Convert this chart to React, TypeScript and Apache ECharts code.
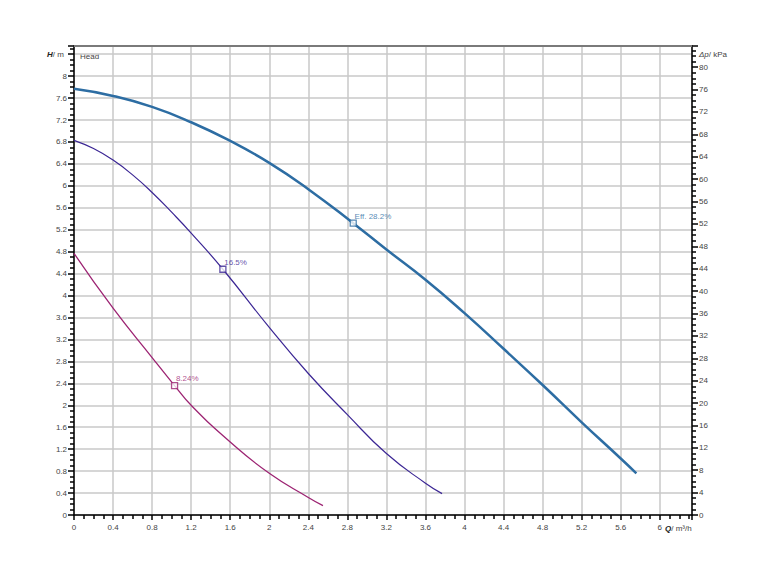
import React, { useEffect, useRef } from "react";
import * as echarts from "echarts";

const blueQ = [0, 0.4, 0.8, 1.2, 1.6, 2.0, 2.4, 2.86, 3.2, 3.6, 4.0, 4.4, 4.8, 5.2, 5.6, 5.76];
const blueH = [7.77, 7.64, 7.44, 7.16, 6.82, 6.42, 5.94, 5.32, 4.84, 4.29, 3.68, 3.03, 2.37, 1.69, 1.03, 0.76];
const purpleQ = [0, 0.2, 0.4, 0.6, 0.8, 1.0, 1.2, 1.525, 2.0, 2.4, 2.8, 3.2, 3.6, 3.77];
const purpleH = [6.83, 6.68, 6.47, 6.2, 5.88, 5.52, 5.14, 4.48, 3.42, 2.58, 1.83, 1.12, 0.58, 0.39];
const magentaQ = [0, 0.4, 0.8, 1.03, 1.2, 1.6, 2.0, 2.4, 2.55];
const magentaH = [4.77, 3.77, 2.87, 2.36, 2.0, 1.33, 0.76, 0.32, 0.17];

const effPoints = [
  { q: 2.86, h: 5.32, label: "Eff. 28.2%", color: "#2d6da3" },
  { q: 1.525, h: 4.48, label: "16.5%", color: "#3b2694" },
  { q: 1.03, h: 2.36, label: "8.24%", color: "#9c2372" },
];

const H_MAX = 8.55;
const KPA_PER_M = 9.8;
const Q_MAX = 6.33;

const FONT = "Liberation Sans, Arial, sans-serif";
const TXT = "#444";

function zip(a: number[], b: number[]) {
  return a.map((v, i) => [v, b[i]]);
}

export default function App() {
  const ref = useRef<HTMLDivElement>(null);
  useEffect(() => {
    if (!ref.current) return;
    const chart = echarts.init(ref.current, undefined, { renderer: "svg" });
    const axisLabel = { fontSize: 8, color: TXT, fontFamily: FONT };
    const axisLine = { show: true, onZero: false, lineStyle: { color: "#000", width: 1.5 } };
    const tickStyle = { color: "#000", width: 1.5 };
    chart.setOption({
      animation: false,
      backgroundColor: "#fff",
      grid: { left: 74, right: 69, top: 46, bottom: 47, show: false },
      xAxis: [
        {
          type: "value",
          min: 0,
          max: Q_MAX,
          interval: 0.4,
          axisLine,
          axisTick: { show: true, inside: false, length: 5, lineStyle: tickStyle },
          minorTick: { show: true, splitNumber: 4, length: 4, lineStyle: tickStyle },
          splitLine: { show: true, lineStyle: { color: "#c8c8c8", width: 1.5 } },
          axisLabel: { ...axisLabel, margin: 8, showMaxLabel: false },
        },
        {
          type: "value",
          position: "top",
          min: 0,
          max: Q_MAX,
          interval: 0.4,
          axisLine: { show: true, onZero: false, lineStyle: { color: "#7a7a7a", width: 2 } },
          axisTick: { show: false },
          minorTick: { show: false },
          splitLine: { show: false },
          axisLabel: { show: false },
        },
      ],
      yAxis: [
        {
          type: "value",
          min: 0,
          max: H_MAX,
          interval: 0.4,
          axisLine,
          axisTick: { show: true, inside: false, length: 6, lineStyle: tickStyle },
          minorTick: { show: true, splitNumber: 4, length: 4, lineStyle: tickStyle },
          splitLine: { show: true, lineStyle: { color: "#c8c8c8", width: 1.5 } },
          axisLabel: {
            ...axisLabel,
            margin: 7,
            showMaxLabel: false,
            formatter: (v: number) => (Math.abs(v - 8.4) < 1e-6 ? "" : String(Math.round(v * 10) / 10)),
          },
        },
        {
          type: "value",
          min: 0,
          max: H_MAX * KPA_PER_M,
          interval: 4,
          position: "right",
          axisLine,
          axisTick: { show: true, inside: false, length: 6, lineStyle: tickStyle },
          minorTick: { show: true, splitNumber: 4, length: 4, lineStyle: tickStyle },
          splitLine: { show: false },
          axisLabel: { ...axisLabel, margin: 7, showMaxLabel: false },
        },
      ],
      series: [
        {
          type: "line",
          data: zip(blueQ, blueH),
          smooth: 0.5,
          showSymbol: false,
          lineStyle: { color: "#2d6da3", width: 2.5 },
          z: 3,
        },
        {
          type: "line",
          data: zip(purpleQ, purpleH),
          smooth: 0.5,
          showSymbol: false,
          lineStyle: { color: "#3b2694", width: 1.2 },
          z: 3,
        },
        {
          type: "line",
          data: zip(magentaQ, magentaH),
          smooth: 0.5,
          showSymbol: false,
          lineStyle: { color: "#9c2372", width: 1.3 },
          z: 3,
        },
        {
          type: "scatter",
          z: 5,
          symbol: "rect",
          symbolSize: 6,
          data: effPoints.map((p) => ({
            value: [p.q, p.h],
            itemStyle: { color: "#fff", borderColor: p.color, borderWidth: 1.3 },
            label: {
              show: true,
              formatter: p.label,
              position: [5, -3],
              align: "left",
              verticalAlign: "middle",
              fontSize: 8,
              fontFamily: FONT,
              color: p.color,
            },
          })),
        },
      ],
      graphic: [
        {
          type: "text",
          left: 47,
          top: 50,
          style: {
            text: "{b|H}{n|/ m}",
            rich: {
              b: { fontSize: 8, fontWeight: "bold", fontStyle: "italic", fontFamily: FONT, fill: "#222" },
              n: { fontSize: 8, fontFamily: FONT, fill: TXT },
            },
          },
        },
        {
          type: "text",
          left: 80,
          top: 52,
          style: { text: "Head", fontSize: 8, fontFamily: FONT, fill: TXT },
        },
        {
          type: "text",
          left: 699,
          top: 50,
          style: {
            text: "{i|Δp}{n|/ kPa}",
            rich: {
              i: { fontSize: 8, fontStyle: "italic", fontFamily: FONT, fill: TXT },
              n: { fontSize: 8, fontFamily: FONT, fill: TXT },
            },
          },
        },
        {
          type: "text",
          left: 665,
          top: 524,
          style: {
            text: "{b|Q}{n|/ m³/h}",
            rich: {
              b: { fontSize: 8, fontWeight: "bold", fontStyle: "italic", fontFamily: FONT, fill: "#222" },
              n: { fontSize: 8, fontFamily: FONT, fill: TXT },
            },
          },
        },
      ],
    });
    return () => chart.dispose();
  }, []);
  return <div ref={ref} style={{ width: 761, height: 562, position: "absolute", left: 0, top: 0 }} />;
}
